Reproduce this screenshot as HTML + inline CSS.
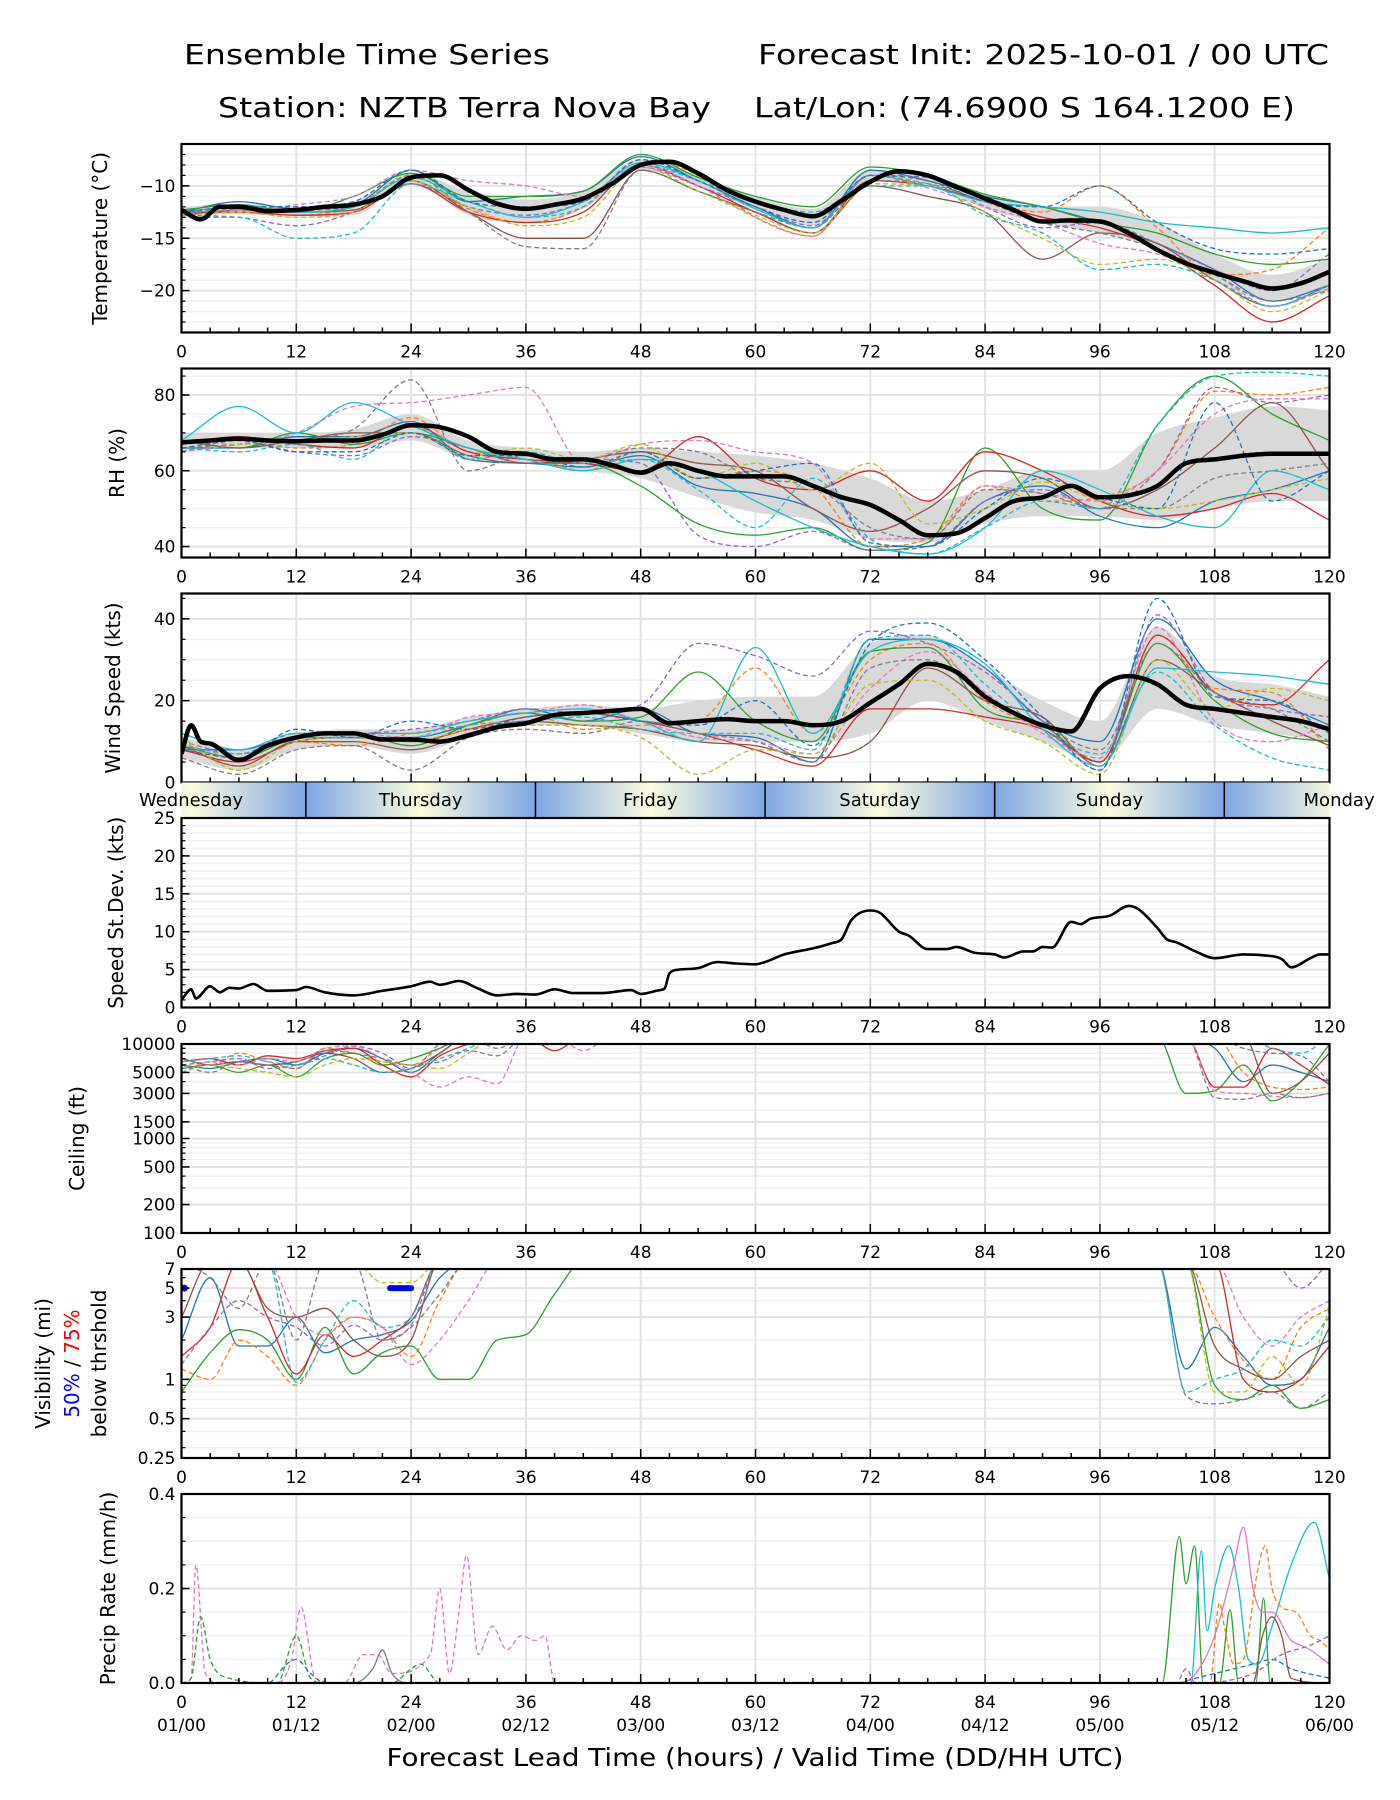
<!DOCTYPE html>
<html><head><meta charset="utf-8"><title>Ensemble Time Series</title>
<style>
html,body{margin:0;padding:0;background:#fff;}
svg{display:block;font-family:"DejaVu Sans","Liberation Sans",sans-serif;}
</style></head>
<body>
<svg id="chart" width="1400" height="1800" viewBox="0 0 1400 1800" xmlns="http://www.w3.org/2000/svg">
<rect x="0" y="0" width="1400" height="1800" fill="#fff"/>
<text x="184" y="64" font-size="28" textLength="366" lengthAdjust="spacingAndGlyphs">Ensemble Time Series</text>
<text x="758" y="64" font-size="28" textLength="571" lengthAdjust="spacingAndGlyphs">Forecast Init: 2025-10-01 / 00 UTC</text>
<text x="218" y="117" font-size="28" textLength="493" lengthAdjust="spacingAndGlyphs">Station: NZTB Terra Nova Bay</text>
<text x="754" y="117" font-size="28" textLength="541" lengthAdjust="spacingAndGlyphs">Lat/Lon: (74.6900 S 164.1200 E)</text>
<text x="755" y="1766" font-size="25" text-anchor="middle" textLength="737" lengthAdjust="spacingAndGlyphs">Forecast Lead Time (hours) / Valid Time (DD/HH UTC)</text>
</svg>
<script>
// ===== DATA =====
const tempMeanHours=[0,2,4,6,9,12,15,18,21,24,27,30,33,36,39,42,45,48,51,54,57,60,63,66,69,72,75,78,81,84,87,90,93,96,99,102,105,108,111,114,117,120];
const tempMean=[-12.3,-13.2,-12.0,-12.0,-12.4,-12.3,-12.0,-11.8,-11.0,-9.2,-9.0,-10.4,-11.7,-12.2,-11.8,-11.2,-9.8,-8.0,-7.7,-8.8,-10.4,-11.5,-12.3,-12.9,-11.4,-9.6,-8.6,-9.0,-10.1,-11.2,-12.3,-13.4,-13.3,-13.4,-14.5,-16.1,-17.4,-18.3,-19.1,-19.8,-19.3,-18.2];
const hours6=[0,6,12,18,24,30,36,42,48,54,60,66,72,78,84,90,96,102,108,114,120];
const tempBandLo=[-12.8,-12.7,-12.9,-12.8,-9.7,-12.8,-13.5,-12.2,-8.5,-10.0,-12.3,-13.8,-9.5,-9.8,-12.2,-13.5,-14.5,-16.0,-19.0,-21.0,-20.0];
const tempBandHi=[-12.0,-11.7,-12.0,-11.5,-8.8,-10.5,-11.3,-10.5,-7.5,-9.0,-11.0,-12.2,-8.5,-9.2,-10.8,-12.0,-12.0,-13.5,-16.5,-18.5,-17.0];
const tempM01=[-12.5,-11.5,-12.2,-11.8,-8.5,-11.5,-11.0,-10.5,-7.2,-9.5,-12.0,-14.0,-8.5,-9.5,-11.0,-12.0,-13.5,-15.5,-18.0,-21.0,-19.5];
const tempM02=[-12.8,-12.5,-12.8,-12.0,-9.0,-12.2,-13.5,-12.0,-7.5,-9.0,-13.0,-14.8,-9.0,-9.8,-11.5,-12.5,-10.0,-14.0,-18.5,-18.0,-14.0];
const tempM03=[-12.3,-11.8,-12.5,-11.0,-8.8,-11.0,-11.0,-10.5,-7.0,-9.2,-11.0,-12.0,-8.2,-9.0,-10.8,-12.0,-13.5,-14.5,-16.5,-17.5,-17.0];
const tempM04=[-12.5,-12.5,-12.8,-12.5,-9.8,-12.5,-13.5,-12.5,-8.0,-10.0,-12.5,-14.5,-9.5,-10.0,-11.5,-13.0,-14.0,-16.0,-19.5,-23.0,-20.5];
const tempM05=[-12.8,-13.0,-13.8,-12.5,-9.8,-12.0,-12.8,-11.5,-8.2,-10.0,-12.0,-13.8,-9.0,-9.2,-12.0,-14.0,-13.5,-15.5,-18.0,-20.0,-16.5];
const tempM06=[-12.8,-12.3,-12.5,-12.3,-9.5,-12.5,-15.0,-15.0,-8.5,-10.5,-12.5,-14.5,-10.0,-11.0,-12.5,-17.0,-14.5,-15.5,-19.0,-21.5,-19.5];
const tempM07=[-12.5,-12.3,-11.8,-11.0,-8.5,-9.5,-10.0,-11.0,-8.0,-10.0,-13.0,-14.8,-9.0,-10.2,-12.0,-13.5,-15.5,-16.5,-18.5,-21.5,-19.8];
const tempM08=[-12.6,-12.2,-12.3,-12.0,-9.0,-12.5,-15.8,-16.0,-8.5,-10.5,-12.5,-14.0,-9.5,-9.8,-11.5,-13.5,-14.5,-16.0,-18.5,-21.0,-20.0];
const tempM09=[-12.8,-12.5,-13.0,-12.5,-9.5,-12.0,-13.8,-13.0,-8.2,-10.5,-12.8,-14.5,-9.8,-10.0,-12.5,-15.0,-17.5,-17.0,-19.0,-22.0,-20.0];
const tempM10=[-13.0,-13.0,-15.0,-14.5,-9.8,-11.5,-13.0,-12.0,-8.0,-9.5,-11.5,-12.5,-10.0,-10.0,-12.8,-14.5,-18.0,-17.5,-19.0,-21.5,-19.5];
const tempM11=[-12.5,-12.0,-12.5,-12.0,-9.2,-11.5,-13.0,-11.5,-7.8,-9.5,-12.2,-14.0,-9.0,-10.0,-11.5,-12.0,-12.5,-13.5,-14.0,-14.5,-14.0];
const tempM12=[-12.5,-12.0,-12.0,-11.5,-8.5,-11.5,-12.0,-11.5,-7.5,-9.5,-12.0,-13.5,-9.0,-9.5,-11.5,-12.0,-10.0,-13.5,-16.0,-16.5,-16.0];

const hours3=[0,3,6,9,12,15,18,21,24,27,30,33,36,39,42,45,48,51,54,57,60,63,66,69,72,75,78,81,84,87,90,93,96,99,102,105,108,111,114,117,120];
const rhMean=[67.5,68,68.5,68,67.8,68,68,69.5,72,71.5,69,65,64.5,63,63,61.5,59.5,62,60,58.5,58.5,58.5,56,53,51,47,43,43.5,47.5,52,53,56,53,53.5,56,62,63,64,64.5,64.5,64.5];
const rhBandLo=[65,66,66,66,68,63,62,60,58,53,49,47,42,41,46,48,48,47,50,52,52];
const rhBandHi=[70,70,70,71,75,68,66,65,66,65,64,62,58,52,55,60,60,70,74,77,76];
const rhM01=[66,66,69,69,73,63,62,61,64,56,54,50,40,40,52,56,48,45,52,55,60];
const rhM02=[67,68,66,67,74,65,64,60,65,58,60,56,40,42,56,52,53,60,81,80,82];
const rhM03=[68,66,70,67,70,66,62,62,56,46,43,45,39,41,66,50,47,72,85,75,68];
const rhM04=[67,69,67,66,72,65,63,62,60,69,58,55,60,52,65,60,52,48,50,54,47];
const rhM05=[65,68,65,64,69,66,62,63,62,43,40,44,39,40,52,55,50,60,82,78,80];
const rhM06=[68,66,68,70,70,64,62,63,65,62,60,50,44,50,60,58,50,55,66,78,60];
const rhM07=[65,67,70,77,78,80,82,62,67,68,65,62,42,42,56,54,52,60,75,79,79];
const rhM08=[66,67,68,71,84,60,64,63,66,65,58,56,45,42,55,54,50,50,58,60,62];
const rhM09=[68,67,68,69,70,64,66,63,67,58,62,55,62,46,50,57,52,50,52,55,58];
const rhM10=[66,65,67,63,72,63,65,62,63,55,45,58,42,38,45,52,50,72,85,86,85];
const rhM11=[68,77,70,78,72,66,63,60,63,60,52,45,40,38,45,60,55,48,45,60,55];
const rhM12=[66,68,65,65,70,64,64,61,65,58,60,62,41,40,50,58,53,50,78,52,60];

const windMeanHours=[0,1,2,3,6,9,12,15,18,21,24,27,30,33,36,39,42,45,48,51,54,57,60,63,66,69,72,75,78,81,84,87,90,93,96,99,102,105,108,111,114,117,120];
const windMean=[7,14,10,9.5,5.5,9,11,12,12,10.5,10.5,10,11.5,13.5,14.5,16.5,17,17.5,18,14.5,15,15.5,15,15,14,15,19.5,24,29,27,21,17,14,12.5,23,26,24,19,18,17,16,15,13];
const windBandLo=[6,3,8,9,7,11,14,14,12,10,10,10,12,20,15,10,5,18,14,12,10];
const windBandHi=[11,8,12,13,13,16,18,19,18,20,21,21,34,36,28,20,15,38,26,24,21];
const windM01=[8,8,11,11,11,14,18,15,18,12,11,5,35,35,28,15,10,40,25,20,14];
const windM02=[10,4,10,9,12,14,17,13,14,15,28,12,30,34,20,13,5,36,23,22,8];
const windM03=[9,6,11,12,9,14,17,15,16,27,15,10,32,33,18,14,5,34,20,12,10];
const windM04=[8,5,10,11,10,13,16,17,15,12,8,4,18,18,16,13,5,36,22,19,30];
const windM05=[10,7,12,12,13,15,18,17,19,34,31,26,37,34,27,15,3,41,22,18,16];
const windM06=[9,4,10,10,8,12,15,14,13,10,9,6,10,28,20,16,4,30,22,15,9];
const windM07=[8,7,11,12,11,16,17,19,15,11,10,7,23,32,22,12,6,38,15,10,14];
const windM08=[6,2,8,9,3,11,13,12,15,12,10,5,28,30,21,14,8,34,22,18,10];
const windM09=[11,3,10,11,10,13,14,14,11,2,8,7,24,25,15,10,2,30,18,23,20];
const windM10=[9,7,11,11,11,14,15,16,13,12,12,8,35,36,24,13,7,27,14,6,3];
const windM11=[12,8,12,12,12,15,17,18,15,10,33,12,32,35,29,13,4,28,27,26,24];
const windM12=[8,6,13,11,15,13,16,17,15,14,20,9,34,39,30,16,3,45,21,20,12];

const sdHours=[0,1,1.5,3,4,5,6,7.5,9,12,13,15,18,21,24,26,27,29,31,33,35,37,39,41,44,47,48,50,50.5,51,52,54,56,58,60,61,63,64,66,68,69,70,72,73,75,76,78,80,81,83,85,86,88,89,90,91,93,94,95,97,99,100,102,103,104,106,108,111,113,115,116,118,119,120];
const sdVals=[1.0,2.4,1.2,2.8,2.0,2.6,2.5,3.1,2.2,2.3,2.7,2.0,1.6,2.2,2.8,3.4,3.0,3.5,2.5,1.6,1.8,1.7,2.4,1.9,1.9,2.3,1.8,2.3,2.5,4.5,5.0,5.2,6.0,5.8,5.7,6.0,7.0,7.3,7.8,8.5,9.0,11.5,12.8,12.5,10.0,9.5,7.7,7.7,8.0,7.2,7.0,6.6,7.4,7.4,8.0,7.9,11.3,11.0,11.7,12.1,13.4,13.0,10.5,9.0,8.6,7.4,6.5,7.0,6.9,6.4,5.3,6.5,7.0,7.0];

const ceilHours=[0,3,6,9,12,15,18,21,24,27,30,33,36,39,42,45,102,105,108,111,114,117,120];
const ceilM01=[6000,5500,6500,7000,6000,8000,9000,7000,5000,8000,12000,12000,12000,12000,12000,12000,12000,12000,9000,4000,6000,5000,4000];
const ceilM02=[7000,6000,8000,6500,5500,9000,8000,6500,6000,9000,12000,12000,12000,12000,12000,12000,12000,12000,12000,5000,3500,3300,3500];
const ceilM03=[5500,6000,5000,6000,4500,7000,8000,6000,7000,9000,12000,12000,12000,12000,12000,12000,12000,3000,3200,6000,2500,4000,10000];
const ceilM04=[6500,7000,6000,7500,7000,8500,9000,6000,4500,7500,10000,12000,12000,8500,12000,12000,12000,12000,3500,3500,9000,6000,3700];
const ceilM05=[6000,6500,7000,5500,6000,7500,9500,8000,5500,10000,12000,9000,12000,12000,12000,12000,12000,12000,12000,9000,8000,7500,4000];
const ceilM06=[7000,6000,6500,6000,6500,8000,7000,5000,5500,8000,12000,12000,12000,12000,12000,12000,12000,12000,12000,12000,3000,4000,8000];
const ceilM07=[5000,6500,6000,7000,6500,9000,9500,7000,5000,3500,4500,3800,12000,12000,8500,12000,12000,12000,3200,3000,2800,2700,3000];
const ceilM08=[6000,5000,6500,6000,5500,8500,8000,7000,6000,6500,8500,7500,12000,12000,12000,12000,12000,12000,2700,2600,3000,2700,3000];
const ceilM09=[5000,6000,5500,5000,4500,6000,7000,6500,6000,5500,8000,12000,12000,12000,12000,12000,12000,12000,12000,12000,12000,12000,12000];
const ceilM10=[6500,7000,7500,6500,6000,7000,6000,5000,5500,7000,9000,12000,12000,12000,12000,12000,12000,12000,12000,12000,9000,8000,12000];

const visHours=[0,3,6,9,12,15,18,21,24,27,30,33,36,39,42,45,102,105,108,111,114,117,120];
const visM01=[2.0,6,1.8,1.8,3.0,1.6,2.0,2.2,2.8,6,8,8,8,8,8,8,8,1.2,2.5,1.5,0.9,1.0,2.5];
const visM02=[1.2,1.0,2.0,1.5,0.9,2.0,3,2.5,1.5,4,8,8,8,8,8,8,8,8,3,1.4,1.0,2.5,3.5];
const visM03=[0.8,1.6,2.4,2.0,1.0,2.5,1.1,1.6,1.8,1.0,1.0,2.0,2.2,4.5,8,8,8,8,0.9,0.7,0.9,0.6,0.7];
const visM04=[1.5,2.5,8,3,1.1,2.2,1.5,2.0,3,8,8,8,8,8,8,8,8,8,8,1.0,0.8,1.0,1.8];
const visM05=[1.3,2.5,4,3,2.5,1.8,2.6,2.0,2.6,8,8,8,8,8,8,8,8,8,8,8,8,5,8];
const visM06=[3,8,8,3.5,3,3.5,2.0,1.5,2.0,8,8,8,8,8,8,8,8,8,1.8,1.2,1.0,1.5,2.0];
const visM07=[8,8,8,8,3,2.2,3,2.5,1.3,2.0,4,8,8,8,8,8,8,8,8,3,1.8,3,4];
const visM08=[8,6,3.5,8,2,8,8,2,2.5,4.5,8,8,8,8,8,8,8,0.75,0.65,0.7,0.8,0.6,0.8];
const visM09=[8,8,8,8,8,8,8,5.5,5.5,8,8,8,8,8,8,8,8,8,0.8,0.8,1.5,0.9,3.5];
const visM10=[8,8,8,8,0.95,2.0,4,2.5,3,8,8,8,8,8,8,8,8,0.8,1.0,1.2,2.0,1.8,3.0];
const vis50Start=21.8, vis50End=24, vis50Level=5;

const precipH01=[0,1,1.5,2.5,4,10,11.5,12.5,14,17,19,20.5,22,26,27,28,29,29.8,31,32.5,34,35.5,37,38,39,120];
const precipV01=[0,0.01,0.25,0.02,0,0,0.05,0.16,0.01,0,0.06,0.06,0.02,0.06,0.2,0.02,0.15,0.27,0.06,0.12,0.07,0.1,0.09,0.1,0,0];
const precipH02=[0,1,2,3,5,10,12,13.5,15,22,24,25,27,120];
const precipV02=[0,0.01,0.14,0.05,0.01,0,0.1,0.01,0,0,0.03,0.04,0,0];
const precipH03=[0,9,11,12,13.5,15,24,104,106,108,110,112,114,116,120];
const precipV03=[0,0,0.04,0.05,0.02,0,0,0,0.01,0.02,0.03,0.04,0.05,0.03,0.01];
const precipH04=[0,18,20,21,22,24,120];
const precipV04=[0,0,0.03,0.07,0.02,0,0];
const precipH05=[0,102.5,104.3,105,105.9,106.8,108.5,109.6,110.5,112.3,113.1,113.8,120];
const precipV05=[0,0,0.31,0.21,0.29,0,0,0.155,0,0,0.18,0,0];
const precipH06=[0,105.5,106.6,107.2,108,109.5,110.5,111.5,112.5,114,116,118.4,120];
const precipV06=[0,0,0.28,0.11,0.2,0.29,0.2,0.05,0.04,0.12,0.25,0.34,0.22];
const precipH07=[0,104,106,108,110,111,112,113,114,116,117,118,120];
const precipV07=[0,0,0.02,0.1,0.25,0.33,0.2,0.15,0.15,0.09,0.08,0.07,0.04];
const precipH08=[0,107.5,108.5,109,110,111,112.5,113.3,114,115,116.5,118,119,120];
const precipV08=[0,0,0.17,0.12,0.04,0.05,0.24,0.29,0.2,0.16,0.15,0.1,0.09,0.07];
const precipH09=[0,112,113,114,115,116,120];
const precipV09=[0,0,0.1,0.14,0.1,0.01,0];
const precipH10=[0,104,105,106,112,115,118,120];
const precipV10=[0,0,0.03,0,0.02,0.06,0.08,0.1];

const xTickHours=[0,12,24,36,48,60,72,84,96,108,120];
const xTickLabels=["0","12","24","36","48","60","72","84","96","108","120"];
const validLabels=["01/00","01/12","02/00","02/12","03/00","03/12","04/00","04/12","05/00","05/12","06/00"];
const dayNames=["Wednesday","Thursday","Friday","Saturday","Sunday","Monday"];
const dayCenters=[1,25,49,73,97,121];
const dayBoundaries=[13,37,61,85,109];

// ===== RENDER =====
const NS='http://www.w3.org/2000/svg';
const svg=document.getElementById('chart');
function mk(tag,attrs,parent){const e=document.createElementNS(NS,tag);for(const k in attrs)e.setAttribute(k,attrs[k]);(parent||svg).appendChild(e);return e;}
const X0=181.5,X1=1329.5;
function sx(h){return X0+(h/120)*(X1-X0);}
function linScale(top,h,min,max){return v=>top+h*(max-v)/(max-min);}
function logScale(top,h,min,max){const a=Math.log10(min),b=Math.log10(max);return v=>top+h*(b-Math.log10(v))/(b-a);}
const C=['#1f77b4','#ff7f0e','#2ca02c','#d62728','#9467bd','#8c564b','#e377c2','#7f7f7f','#bcbd22','#17becf'];

// monotone cubic (Fritsch-Carlson), x increasing
function smooth(pts,noMove){
  const n=pts.length;if(n<2)return '';
  const dx=[],m=[],t=new Array(n);
  for(let i=0;i<n-1;i++){dx.push(pts[i+1][0]-pts[i][0]);m.push((pts[i+1][1]-pts[i][1])/(dx[i]||1e-6));}
  t[0]=m[0];t[n-1]=m[n-2];
  for(let i=1;i<n-1;i++){t[i]=(m[i-1]*m[i]<=0)?0:(m[i-1]+m[i])/2;}
  for(let i=0;i<n-1;i++){if(m[i]===0){t[i]=0;t[i+1]=0;continue;}
    const a=t[i]/m[i],b=t[i+1]/m[i],s=a*a+b*b;if(s>9){const k=3/Math.sqrt(s);t[i]=k*a*m[i];t[i+1]=k*b*m[i];}}
  let d=noMove?'':'M'+pts[0][0].toFixed(1)+','+pts[0][1].toFixed(1);
  for(let i=0;i<n-1;i++){const h=dx[i]/3;
    d+='C'+(pts[i][0]+h).toFixed(1)+','+(pts[i][1]+t[i]*h).toFixed(1)+' '+(pts[i+1][0]-h).toFixed(1)+','+(pts[i+1][1]-t[i+1]*h).toFixed(1)+' '+pts[i+1][0].toFixed(1)+','+pts[i+1][1].toFixed(1);}
  return d;
}

let clipId=0;
function panel(name,top,h,ys,majorY,minorY,labelFn,yTitleLines,yTitleX,showXLabels){
  const g=mk('g',{});
  
  
  const id='clip'+(clipId++);
  const cp=mk('clipPath',{id:id},g);
  mk('rect',{x:X0,y:top,width:X1-X0,height:h},cp);
  minorY.forEach(v=>{const y=ys(v);if(y<top-0.5||y>top+h+0.5)return;
    const l=mk('line',{x1:X0,x2:X1,y1:y,y2:y,stroke:'#f0f0f0','stroke-width':1.5},g);
    
    });
  majorY.forEach(v=>{const y=ys(v);
    const l=mk('line',{x1:X0,x2:X1,y1:y,y2:y,stroke:'#e3e3e3','stroke-width':2},g);
    
    });
  xTickHours.forEach(hr=>{const x=sx(hr);
    const l=mk('line',{x1:x,x2:x,y1:top,y2:top+h,stroke:'#e3e3e3','stroke-width':2},g);
    
    });
  const plot=mk('g',{'clip-path':'url(#'+id+')'},g);
  
  
  function finish(){
    const fr=mk('rect',{x:X0,y:top,width:X1-X0,height:h,fill:'none',stroke:'#000','stroke-width':2.2},g);
    
    
    for(let hr=0;hr<=120;hr+=3){const x=sx(hr);const len=hr%12===0?9:5;
      const t=mk('line',{x1:x,x2:x,y1:top+h,y2:top+h-len,stroke:'#000','stroke-width':1.5},g);
      
      }
    minorY.forEach(v=>{const y=ys(v);if(y<top-0.5||y>top+h+0.5)return;
      const t=mk('line',{x1:X0,x2:X0+4,y1:y,y2:y,stroke:'#000','stroke-width':1.2},g);
      
      });
    majorY.forEach(v=>{const y=ys(v);
      const t=mk('line',{x1:X0,x2:X0+8,y1:y,y2:y,stroke:'#000','stroke-width':1.5},g);
      
      
      const tx=mk('text',{x:X0-6,y:y+6,'font-size':17,'text-anchor':'end'},g);
      tx.textContent=labelFn(v);
      
      });
    if(showXLabels!==false){
      xTickHours.forEach((hr,i)=>{
        const tx=mk('text',{x:sx(hr),y:top+h+25,'font-size':17,'text-anchor':'middle'},g);
        tx.textContent=xTickLabels[i];
        
        });
    }
    const cy=top+h/2;
    yTitleLines.forEach((ln,i)=>{
      const tx=mk('text',{x:0,y:0,'font-size':20,'text-anchor':'middle',transform:'translate('+(yTitleX[i])+','+cy+') rotate(-90)'},g);
      if(typeof ln==='string'){tx.textContent=ln;}
      else{ln.forEach(p=>{const s=mk('tspan',{fill:p[1]},tx);s.textContent=p[0];});}
      
      });
  }
  return {plot,finish,ys,top,h};
}
function line(P,hrs,vals,color,dashed,width,nm){
  const pts=[];hrs.forEach((hr,i)=>{if(vals[i]!==null)pts.push([sx(hr),P.ys(vals[i])]);});
  const a={d:smooth(pts),fill:'none',stroke:color,'stroke-width':width,'stroke-linejoin':'round'};
  if(dashed)a['stroke-dasharray']='5,3';
  const p=mk('path',a,P.plot);
  
  
  return p;
}
function band(P,hrs,lo,hi,nm){
  const up=hrs.map((hr,i)=>[sx(hr),P.ys(hi[i])]);
  const dn=hrs.map((hr,i)=>[sx(hr),P.ys(lo[i])]);
  // lower path drawn reversed: compute on forward points then reverse segments by building separately
  const dnRev=dn.slice().reverse().map(p=>[-p[0],p[1]]);
  const revPath=smooth(dnRev,true).replace(/(-?\d+\.?\d*),(-?\d+\.?\d*)/g,(s,x,y)=>(-parseFloat(x)).toFixed(1)+','+y);
  const d=smooth(up)+'L'+dn[dn.length-1][0].toFixed(1)+','+dn[dn.length-1][1].toFixed(1)+revPath+'Z';
  const p=mk('path',{d:d,fill:'#d9d9d9',stroke:'none'},P.plot);
  
  
}
function range(a,b,s){const r=[];for(let v=a;v<=b+1e-9;v+=s)r.push(+v.toFixed(4));return r;}
const dashStyle=[false,true,false,false,true,false,true,true,true,true,false,true];
const colorIdx=[0,1,2,3,4,5,6,7,8,9,9,0];

// Temperature
const PT=panel('temperature',144,188.5,linScale(144,188.5,-24,-6),[-20,-15,-10],range(-24,-6,1),v=>'\u2212'+Math.abs(v),['Temperature (\u00B0C)'],[107]);
band(PT,hours6,tempBandLo,tempBandHi,'temperature-spread-band');
[tempM01,tempM02,tempM03,tempM04,tempM05,tempM06,tempM07,tempM08,tempM09,tempM10,tempM11,tempM12].forEach((m,i)=>line(PT,hours6,m,C[colorIdx[i]],dashStyle[i],1.3,'temperature-member-line'));
line(PT,tempMeanHours,tempMean,'#000',false,4.5,'temperature-mean-line');
PT.finish();

// RH
const PR=panel('rh',368.5,189,linScale(368.5,189,37.1,87),[40,60,80],range(40,85,5),v=>''+v,['RH (%)'],[124]);
band(PR,hours6,rhBandLo,rhBandHi,'rh-spread-band');
[rhM01,rhM02,rhM03,rhM04,rhM05,rhM06,rhM07,rhM08,rhM09,rhM10,rhM11,rhM12].forEach((m,i)=>line(PR,hours6,m,C[colorIdx[i]],dashStyle[i],1.3,'rh-member-line'));
line(PR,hours3,rhMean,'#000',false,4.5,'rh-mean-line');
PR.finish();

// Wind
const PW=panel('wind',593.5,189,linScale(593.5,189,0,46.2),[0,20,40],range(0,45,5),v=>''+v,['Wind Speed (kts)'],[120],false);
band(PW,hours6,windBandLo,windBandHi,'wind-spread-band');
[windM01,windM02,windM03,windM04,windM05,windM06,windM07,windM08,windM09,windM10,windM11,windM12].forEach((m,i)=>line(PW,hours6,m,C[colorIdx[i]],dashStyle[i],1.3,'wind-member-line'));
line(PW,windMeanHours,windMean,'#000',false,4.5,'wind-mean-line');
PW.finish();

// Day bar
(function(){
  const g=mk('g',{});
  
  
  const defs=mk('defs',{},g);
  const gr=mk('linearGradient',{id:'dayGrad',x1:'0',x2:'1',y1:'0',y2:'0'},defs);
  mk('stop',{offset:'0','stop-color':'#7ea6e4'},gr);
  mk('stop',{offset:'0.5','stop-color':'#fcfde0'},gr);
  mk('stop',{offset:'1','stop-color':'#7ea6e4'},gr);
  const cp=mk('clipPath',{id:'dayclip'},defs);
  mk('rect',{x:X0,y:782.5,width:X1-X0,height:35},cp);
  const inner=mk('g',{'clip-path':'url(#dayclip)'},g);
  dayCenters.forEach((c,i)=>{
    const r=mk('rect',{x:sx(c-12),y:782.5,width:sx(c+12)-sx(c-12),height:35,fill:'url(#dayGrad)'},inner);
    
    });
  dayBoundaries.forEach(b=>{
    const l=mk('line',{x1:sx(b),x2:sx(b),y1:782.5,y2:817.5,stroke:'#000','stroke-width':1.5},g);
    
    });
  dayNames.forEach((n,i)=>{
    const t=mk('text',{x:sx(dayCenters[i]),y:806,'font-size':18,'text-anchor':'middle'},g);
    t.textContent=n;
    
    });
})();

// Speed St Dev
const PS=panel('speed-stdev',818,189.5,linScale(818,189.5,0,25),[0,5,10,15,20,25],range(0,25,1),v=>''+v,['Speed St.Dev. (kts)'],[123]);
line(PS,sdHours,sdVals,'#000',false,2.6,'speed-stdev-line');
PS.finish();

// Ceiling
const ceilMinor=[300,400,600,700,800,900,2000,4000,6000,7000,8000,9000];
const PC=panel('ceiling',1044,189,logScale(1044,189,100,10000),[100,200,500,1000,1500,3000,5000,10000],ceilMinor,v=>''+v,['Ceiling (ft)'],[84]);
[ceilM01,ceilM02,ceilM03,ceilM04,ceilM05,ceilM06,ceilM07,ceilM08,ceilM09,ceilM10].forEach((m,i)=>line(PC,ceilHours,m,C[i],dashStyle[i],1.3,'ceiling-member-line'));
PC.finish();

// Visibility
const PV=panel('visibility',1269,189,logScale(1269,189,0.25,7),[0.25,0.5,1,3,5,7],[0.3,0.4,0.6,0.7,0.8,0.9,2,4,6],v=>''+v,['Visibility (mi)',[['50%','#0000ff'],[' / ','#000'],['75%','#ff0000']],'below thrshold'],[50,79,106]);
[visM01,visM02,visM03,visM04,visM05,visM06,visM07,visM08,visM09,visM10].forEach((m,i)=>line(PV,visHours,m,C[i],dashStyle[i],1.3,'visibility-member-line'));
(function(){
  const b=mk('line',{x1:sx(vis50Start),x2:sx(vis50End),y1:PV.ys(vis50Level),y2:PV.ys(vis50Level),stroke:'#0000ff','stroke-width':6,'stroke-linecap':'round'},PV.plot);
  
  
  const d=mk('circle',{cx:sx(0.3),cy:PV.ys(vis50Level),r:3.5,fill:'#0000ff'},PV.plot);
  
  
})();
PV.finish();

// Precip
const PP=panel('precip',1494,189,linScale(1494,189,0,0.4),[0,0.2,0.4],range(0,0.4,0.05),v=>v.toFixed(1),['Precip Rate (mm/h)'],[115]);
[[precipH01,precipV01,6,true],[precipH02,precipV02,2,true],[precipH03,precipV03,0,true],[precipH04,precipV04,7,false],[precipH05,precipV05,2,false],[precipH06,precipV06,9,false],[precipH07,precipV07,6,false],[precipH08,precipV08,1,true],[precipH09,precipV09,5,false],[precipH10,precipV10,4,true]].forEach(s=>line(PP,s[0],s[1],C[s[2]],s[3],1.3,'precip-member-line'));
PP.finish();
xTickHours.forEach((hr,i)=>{
  const t=mk('text',{x:sx(hr),y:1731,'font-size':17,'text-anchor':'middle'});
  t.textContent=validLabels[i];
  
  });
</script>
</body></html>
